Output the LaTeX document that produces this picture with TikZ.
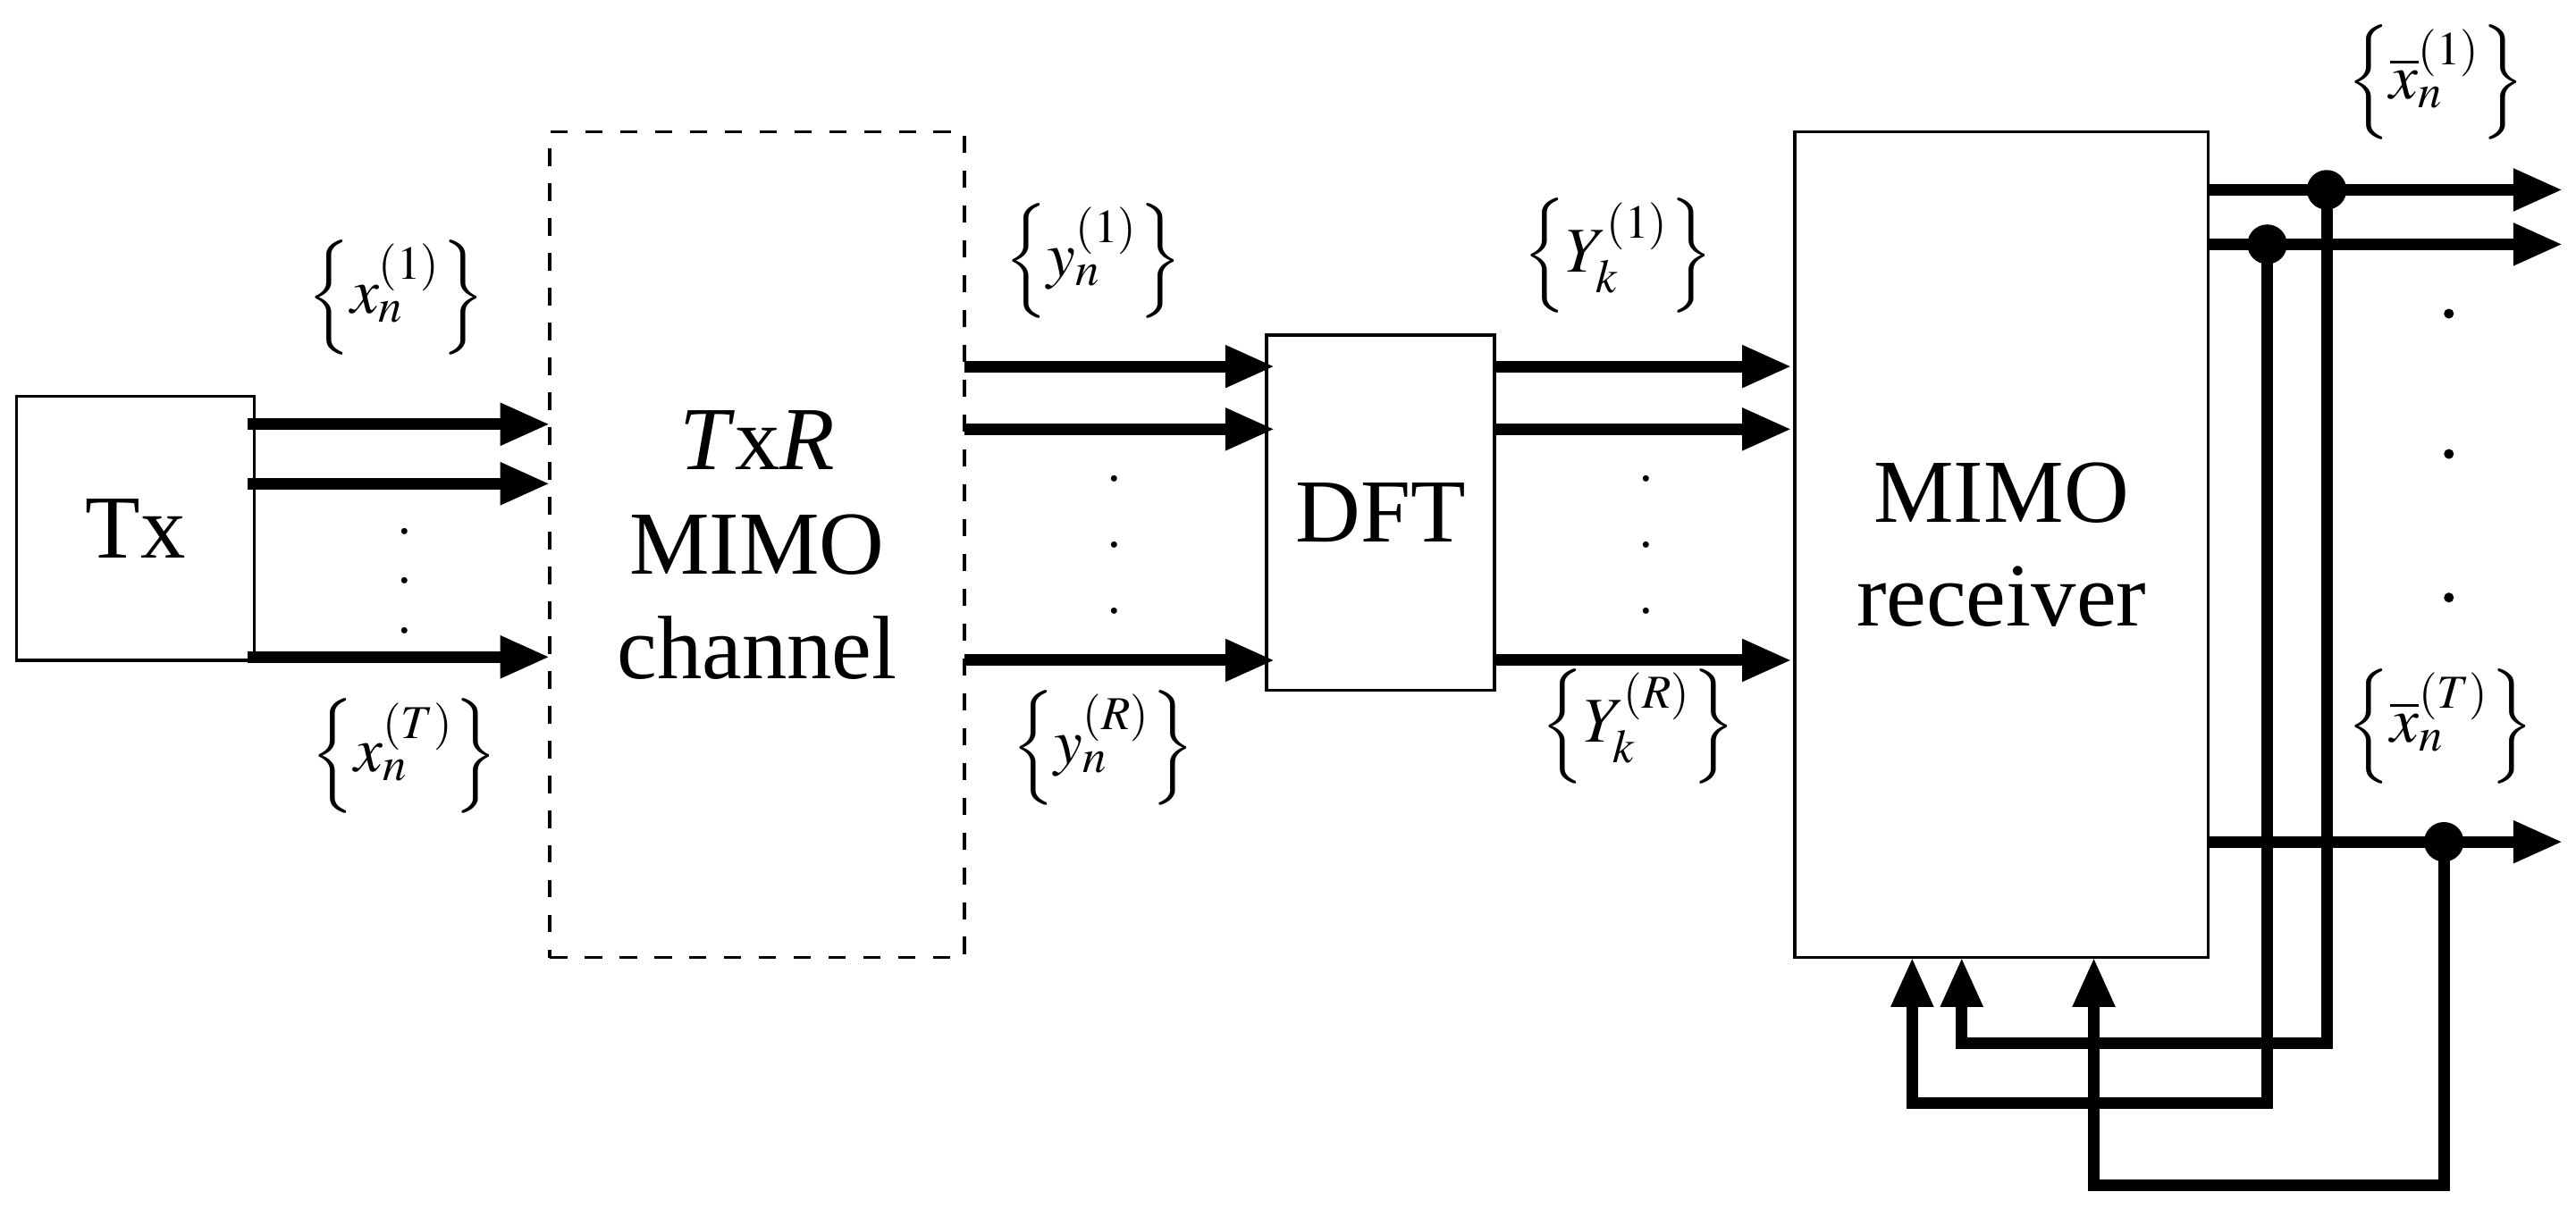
\documentclass[tikz,border=0pt]{standalone}
\usepackage{mathptmx}
\usepackage{fontspec}
\setmainfont{Liberation Serif}
\usetikzlibrary{arrows.meta}
\begin{document}
\begin{tikzpicture}[x=0.01cm,y=-0.01cm,
  box/.style={draw,line width=0.5pt,inner sep=0,align=center,font=\fontsize{15.5}{18}\selectfont},
  sig/.style={line width=2pt,-{Triangle[length=0.3cm,width=0.24cm]}},
  fb/.style={line width=2pt},
  lab/.style={font=\fontsize{11}{13}\selectfont,inner sep=0},
  dot/.style={circle,fill,inner sep=0,minimum size=0.24cm},
  vd/.style={font=\small}]
\useasboundingbox (0,0) rectangle (1560,737);
\node[box,minimum width=1.44cm,minimum height=1.6cm] (tx) at (82,320) {Tx};
\node[box,dashed,minimum width=2.51cm,minimum height=5cm] (ch) at (458.5,330) {\textit{T}x\textit{R}\\MIMO\\channel};
\node[box,minimum width=1.38cm,minimum height=2.15cm] (dft) at (836,310.5) {DFT};
\node[box,minimum width=2.5cm,minimum height=5cm] (rx) at (1212,330) {MIMO\\receiver};
% Tx -> channel
\foreach \y in {257,293,398} \draw[sig] (150,\y) -- (333,\y);
\foreach \y in {322,352,382} \node[vd] at (245,\y) {.};
\node[lab] at (240,180) {$\left\{x_n^{(1)}\right\}$};
\node[lab] at (245,458) {$\left\{x_n^{(T)}\right\}$};
% channel -> DFT
\foreach \y in {222,260,400} \draw[sig] (584,\y) -- (772,\y);
\foreach \y in {290,330,370} \node[vd] at (675,\y) {.};
\node[lab] at (662,158) {$\left\{y_n^{(1)}\right\}$};
\node[lab] at (668,453) {$\left\{y_n^{(R)}\right\}$};
% DFT -> rx
\foreach \y in {222,260,400} \draw[sig] (905,\y) -- (1085,\y);
\foreach \y in {290,330,370} \node[vd] at (997,\y) {.};
\node[lab] at (980,155) {$\left\{Y_k^{(1)}\right\}$};
\node[lab] at (992,440) {$\left\{Y_k^{(R)}\right\}$};
% outputs
\foreach \y in {115,148,510} \draw[sig] (1337,\y) -- (1552,\y);
\foreach \y in {190,275,362} \node[circle,fill,inner sep=0,minimum size=0.06cm] at (1483,\y) {};
\node[lab] at (1475,50) {$\left\{\overline{x}_n^{(1)}\right\}$};
\node[lab] at (1478,440) {$\left\{\overline{x}_n^{(T)}\right\}$};
\node[dot] (j1) at (1409,115) {};
\node[dot] (j2) at (1373,148) {};
\node[dot] (j3) at (1480,510) {};
\draw[fb,-{Triangle[length=0.3cm,width=0.24cm]}] (j1.center) -- (1409,632) -- (1188,632) -- (1188,580);
\draw[fb,-{Triangle[length=0.3cm,width=0.24cm]}] (j2.center) -- (1373,668) -- (1158,668) -- (1158,580);
\draw[fb,-{Triangle[length=0.3cm,width=0.24cm]}] (j3.center) -- (1480,718) -- (1268,718) -- (1268,580);
\end{tikzpicture}
\end{document}
